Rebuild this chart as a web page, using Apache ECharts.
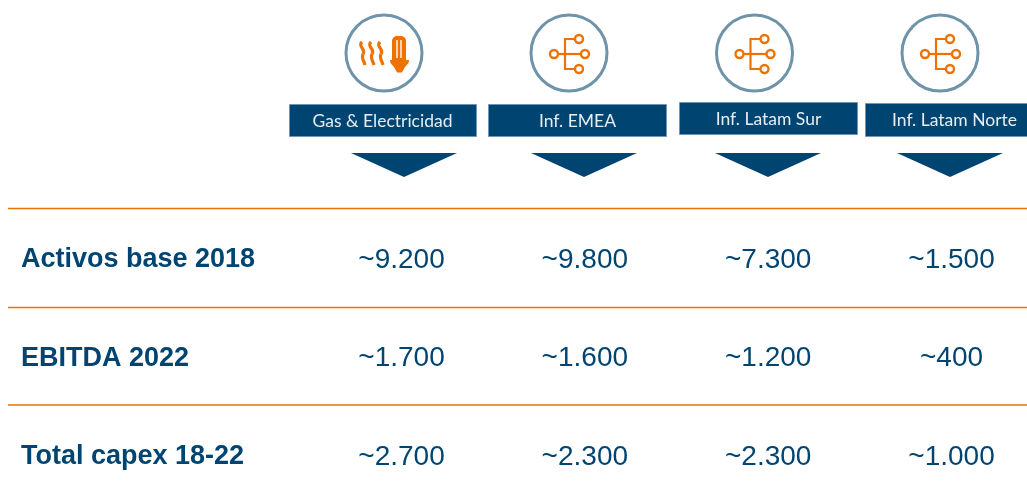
<!DOCTYPE html>
<html>
<head>
<meta charset="utf-8">
<style>
  html, body { margin: 0; padding: 0; background: #fff; }
  #main { width: 1027px; height: 495px; }
</style>
<script src="https://cdn.jsdelivr.net/npm/echarts@6/dist/echarts.min.js"></script>
</head>
<body>
<div id="main"></div>
<script>
var segments = ['Gas & Electricidad', 'Inf. EMEA', 'Inf. Latam Sur', 'Inf. Latam Norte'];
var rows = ['Activos base 2018', 'EBITDA 2022', 'Total capex 18-22'];
var activos = [9200, 9800, 7300, 1500];
var ebitda = [1700, 1600, 1200, 400];
var capex = [2700, 2300, 2300, 1000];

var NAVY = '#004571';
var ORANGE = '#ee7203';
var RING = '#6f93a8';

// header layout, one entry per segment: [x0, x1, y0, y1] of the box
var boxes = [[289, 477, 104, 137], [488, 667, 104, 137], [679, 858, 102, 135], [865, 1030, 103, 137]];
var arrowTips = [404, 584, 768, 950];
var ringCenters = [384, 569, 754.5, 940];

function fmt(v) {
  var s = String(v);
  return '~' + (s.length > 3 ? s.slice(0, -3) + '.' + s.slice(-3) : s);
}

function row_series(name, values) {
  return {
    type: 'scatter',
    symbolSize: 0,
    silent: true,
    itemStyle: { opacity: 1 },
    data: values.map(function (v, i) { return [segments[i], name, v]; }),
    label: {
      show: true,
      position: 'inside',
      formatter: function (p) { return fmt(p.value[2]); },
      fontFamily: 'Liberation Sans',
      fontSize: 28,
      color: NAVY
    }
  };
}

function poly(points, stroke, width) {
  return { type: 'polyline', shape: { points: points }, style: { stroke: stroke, lineWidth: width, fill: null } };
}

function tree_icon(cx) {
  var st = { stroke: ORANGE, lineWidth: 2.4, fill: '#fff' };
  return [
    poly([[cx - 11, 54], [cx + 12, 54]], ORANGE, 2.2),
    poly([[cx + 7, 39], [cx - 4, 39], [cx - 4, 69], [cx + 7, 69]], ORANGE, 2.2),
    { type: 'circle', shape: { cx: cx - 15, cy: 54, r: 4 }, style: st },
    { type: 'circle', shape: { cx: cx + 10, cy: 39, r: 4 }, style: st },
    { type: 'circle', shape: { cx: cx + 16, cy: 54, r: 4 }, style: st },
    { type: 'circle', shape: { cx: cx + 10, cy: 69, r: 4 }, style: st }
  ];
}

function gas_icon() {
  var els = [];
  [0, 9, 18].forEach(function (dx) {
    var x = 360 + dx;
    var st = { stroke: ORANGE, lineWidth: 3.2, fill: null };
    els.push({ type: 'bezierCurve', shape: { x1: x + 2, y1: 42, cpx1: x - 3, cpy1: 47, cpx2: x + 7, cpy2: 49, x2: x + 3, y2: 54 }, style: st });
    els.push({ type: 'bezierCurve', shape: { x1: x + 3, y1: 54, cpx1: x + 1, cpy1: 58, cpx2: x + 4, cpy2: 61, x2: x + 5, y2: 65 }, style: st });
  });
  els.push({ type: 'rect', shape: { x: 392, y: 36, width: 14, height: 25, r: [5, 5, 0, 0] }, style: { fill: ORANGE } });
  els.push(poly([[397, 40], [397, 58]], '#fff', 1.4));
  els.push(poly([[401, 40], [401, 58]], '#fff', 1.4));
  els.push({ type: 'polygon', shape: { points: [[390, 60], [409, 60], [408.5, 63], [405, 67], [402, 72.5], [397, 72.5], [394, 67], [390.5, 63]] }, style: { fill: ORANGE } });
  return els;
}

function header_graphics() {
  var els = [];
  // table rules
  [208.5, 307.5, 405].forEach(function (y) {
    els.push({ type: 'line', shape: { x1: 8, y1: y, x2: 1027, y2: y }, style: { stroke: ORANGE, lineWidth: 1.5 } });
  });
  segments.forEach(function (name, i) {
    var b = boxes[i], tip = arrowTips[i], cx = ringCenters[i];
    els.push({ type: 'circle', shape: { cx: cx, cy: 53, r: 38 }, style: { fill: '#fff', stroke: RING, lineWidth: 3 } });
    els = els.concat(i === 0 ? gas_icon() : tree_icon(cx));
    els.push({ type: 'rect', shape: { x: b[0] + 0.5, y: b[2] + 0.5, width: b[1] - b[0] - 1, height: b[3] - b[2] - 1 }, style: { fill: NAVY, stroke: '#6f96b8', lineWidth: 1 } });
    els.push({
      type: 'text',
      x: i === 3 ? 954.5 : (b[0] + b[1]) / 2 - (i === 0 ? 0.5 : 0),
      y: (b[2] + b[3]) / 2 + 0.5,
      style: { text: name, fill: '#e6edf2', font: '17.5px Lato', align: 'center', verticalAlign: 'middle' }
    });
    els.push({ type: 'polygon', shape: { points: [[tip - 53, 153], [tip + 53, 153], [tip, 177]] }, style: { fill: NAVY } });
  });
  return els;
}

var chart = echarts.init(document.getElementById('main'), null, { renderer: 'canvas' });
chart.setOption({
  animation: false,
  backgroundColor: '#fff',
  grid: { left: 401.5, top: 260, width: 550, height: 197, containLabel: false },
  xAxis: {
    type: 'category',
    boundaryGap: false,
    data: segments,
    axisLine: { show: false },
    axisTick: { show: false },
    axisLabel: { show: false },
    splitLine: { show: false }
  },
  yAxis: {
    type: 'category',
    boundaryGap: false,
    inverse: true,
    data: rows,
    axisLine: { show: false },
    axisTick: { show: false },
    splitLine: { show: false },
    axisLabel: {
      align: 'left',
      margin: 380.5,
      fontFamily: 'Liberation Sans',
      fontWeight: 'bold',
      fontSize: 27,
      color: NAVY
    }
  },
  series: [row_series(rows[0], activos), row_series(rows[1], ebitda), row_series(rows[2], capex)],
  graphic: { elements: header_graphics() }
});
</script>
</body>
</html>
